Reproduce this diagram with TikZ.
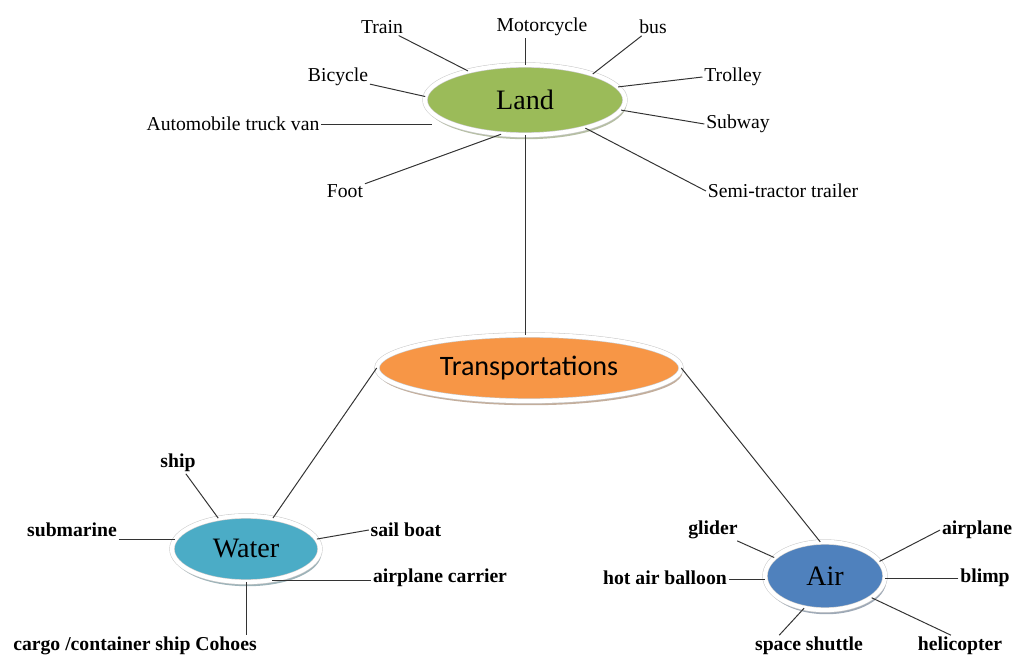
\documentclass[tikz,border=0pt]{standalone}
\usepackage{fontspec}
\setmainfont{Liberation Serif}
\newfontfamily\calibri{Carlito}
\usetikzlibrary{shapes.geometric,shadows}

\definecolor{landgreen}{HTML}{9BBB59}
\definecolor{transorange}{HTML}{F79646}
\definecolor{waterteal}{HTML}{4BACC6}
\definecolor{airblue}{HTML}{4F81BD}

\tikzset{
  topic/.style={ellipse, draw=black!20, line width=0.4pt, double=white, double distance=3pt, inner sep=0pt, font=\fontsize{20}{24}\selectfont},
  item/.style={inner sep=1pt, font=\fontsize{14}{16}\selectfont},
  bitem/.style={inner sep=1pt, font=\fontsize{14}{16}\selectfont\bfseries},
}

\begin{document}
\begin{tikzpicture}[x=0.025cm, y=-0.025cm, line width=0.7pt, draw=black!80]
  \useasboundingbox (0,0) rectangle (1014,657);

  % Topics
  \node[topic, fill=landgreen, minimum width=5cm, minimum height=1.75cm,
        drop shadow={shadow xshift=1pt, shadow yshift=-3pt, fill=landgreen!60!black, opacity=.45}] (land) at (525,100) {Land};
  \node[topic, fill=transorange, minimum width=7.6cm, minimum height=1.65cm, font=\calibri\fontsize{20}{24}\selectfont,
        drop shadow={shadow xshift=1pt, shadow yshift=-3pt, fill=transorange!50!black, opacity=.45}] (trans) at (529,368) {Transportations};
  \node[topic, fill=waterteal, minimum width=3.7cm, minimum height=1.65cm,
        drop shadow={shadow xshift=1pt, shadow yshift=-3pt, fill=waterteal!50!black, opacity=.45}] (water) at (246,549) {Water};
  \node[topic, fill=airblue, minimum width=3cm, minimum height=1.7cm,
        drop shadow={shadow xshift=1pt, shadow yshift=-3pt, fill=airblue!50!black, opacity=.45}] (air) at (825,576) {Air};

  % Land items
  \node[item] (train) at (382,27) {Train};
  \node[item] (motorcycle) at (542,27) {Motorcycle};
  \node[item] (bus) at (653,27) {bus};
  \node[item] (bicycle) at (338,77) {Bicycle};
  \node[item] (trolley) at (733,77) {Trolley};
  \node[item] (auto) at (233,124) {Automobile truck van};
  \node[item] (subway) at (738,124) {Subway};
  \node[item] (foot) at (345,191) {Foot};
  \node[item] (semi) at (783,191) {Semi-tractor trailer};

  % Water items
  \node[bitem] (ship) at (178,463) {ship};
  \node[bitem] (submarine) at (72,530) {submarine};
  \node[bitem] (sailboat) at (406,530) {sail boat};
  \node[bitem] (carrier) at (440,578) {airplane carrier};
  \node[bitem] (cargo) at (135,646) {cargo /container ship Cohoes};

  % Air items
  \node[bitem] (glider) at (713,530) {glider};
  \node[bitem] (balloon) at (665,578) {hot air balloon};
  \node[bitem] (airplane) at (977,530) {airplane};
  \node[bitem] (blimp) at (985,578) {blimp};
  \node[bitem] (shuttle) at (809,646) {space shuttle};
  \node[bitem] (helicopter) at (960,646) {helicopter};

  % Edges
  \draw (land.south) -- (land.south |- trans.north);
  \draw (trans.west) -- (water.49);
  \draw (trans.east) -- (air.98);

  \draw (train) -- (land.153);
  \draw (land.north) -- (land.north |- motorcycle.south);
  \draw (bus) -- (land.21);
  \draw (bicycle) -- (land.178);
  \draw (trolley.west) -- (land.8);
  \draw (auto.east) -- (auto.east -| land.188);
  \draw (subway.west) -- (land.-6);
  \draw (foot) -- (land.235);
  \draw (semi.west) -- (land.-25);

  \draw (ship) -- (water.132);
  \draw (water.172) -- (water.172 -| submarine.east);
  \draw (sailboat.west) -- (water.8);
  \draw (water.-50) -- (water.-50 -| carrier.west);
  \draw (water.south) -- (water.south |- cargo.north);

  \draw (glider) -- (air.160);
  \draw (air.183) -- (air.183 -| balloon.east);
  \draw (airplane.west) -- (air.15);
  \draw (blimp.west) -- (blimp.west -| air.east);
  \draw (shuttle.160) -- (air.237);
  \draw (helicopter.130) -- (air.-25);
\end{tikzpicture}
\end{document}
